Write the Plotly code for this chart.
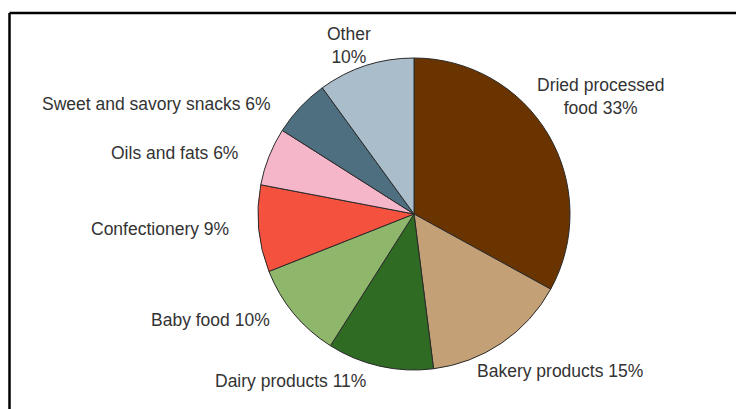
import plotly.graph_objects as go

# ---- data ----
categories = ["Dried processed food", "Bakery products", "Dairy products", "Baby food",
              "Confectionery", "Oils and fats", "Sweet and savory snacks", "Other"]
shares = [33, 15, 11, 10, 9, 6, 6, 10]
label_texts = ["Dried processed<br>food 33%", "Bakery products 15%", "Dairy products 11%",
               "Baby food 10%", "Confectionery 9%", "Oils and fats 6%",
               "Sweet and savory snacks 6%", "Other<br>10%"]
colors = ["#6a3400", "#c4a077", "#2f6b22", "#8fb76c", "#f5513f", "#f6b6c9", "#4e6f7f", "#aabdcb"]

# the page body has an 8px margin, so the figure fills the window at 736x401
OFF = 8
W, H = 744 - OFF, 409 - OFF


def fx(px):
    return (px - OFF) / W


def fy(py):
    return 1 - (py - OFF) / H


# pie placement (window pixels)
cx, cy, r = 414, 214, 156

fig = go.Figure(go.Pie(
    labels=categories,
    values=shares,
    sort=False,
    direction="clockwise",
    rotation=0,
    textinfo="none",
    marker=dict(colors=colors, line=dict(color="#2a2a2a", width=1)),
    domain=dict(x=[fx(cx - r), fx(cx + r)],
                y=[fy(cy + r), fy(cy - r)]),
    showlegend=False,
))

# label anchor positions in window pixels (centre of text)
label_pos = [(600, 96), (560, 371), (290, 381), (211, 320),
             (160, 229), (174, 153), (156, 104), (349, 46)]

for txt, (px, py) in zip(label_texts, label_pos):
    fig.add_annotation(
        x=fx(px), y=fy(py), xref="paper", yref="paper",
        text=txt, showarrow=False, xanchor="center", yanchor="middle",
        align="center",
        font=dict(family="Liberation Sans, Arial, sans-serif", size=17.5, color="#333333"),
    )

# frame (top, left, right)
line_style = dict(color="black", width=2.5)
top = fy(13)
fig.add_shape(type="line", xref="paper", yref="paper",
              x0=fx(9.5), x1=1, y0=top, y1=top, line=line_style)
fig.add_shape(type="line", xref="paper", yref="paper",
              x0=fx(9.5), x1=fx(9.5), y0=0, y1=top, line=line_style)
fig.add_shape(type="line", xref="paper", yref="paper",
              x0=fx(741), x1=fx(741), y0=0, y1=top, line=line_style)

fig.update_layout(
    width=W, height=H,
    margin=dict(l=0, r=0, t=0, b=0),
    paper_bgcolor="white", plot_bgcolor="white",
)

fig.write_html("out.html")
